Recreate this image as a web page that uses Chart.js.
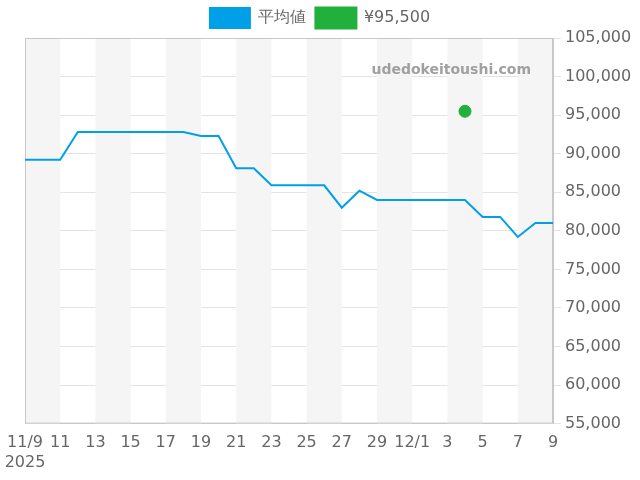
<!DOCTYPE html>
<html><head><meta charset="utf-8">
<script src="https://cdn.jsdelivr.net/npm/chart.js@4"></script>
<style>body{margin:0}#wrap{width:640px;height:480px}</style>
</head><body><div id="wrap"><canvas id="c"></canvas></div>
<script>
// day index 0 = 11/9/2025
const tickLabels = ['11/9','11','13','15','17','19','21','23','25','27','29','12/1','3','5','7','9'];
const avgValues = [89200,89200,89200,92800,92800,92800,92800,92800,92800,92800,92300,92300,88100,88100,85900,85900,85900,85900,83000,85200,84000,84000,84000,84000,84000,84000,81800,81800,79200,81000,81000];
const pointDay = 25;
const pointValue = 95500;

const bands = {
  id: 'bands',
  beforeDatasetsDraw(chart) {
    const {ctx, chartArea, scales: {x}} = chart;
    ctx.save();
    ctx.fillStyle = '#f5f5f5';
    for (let d = 0; d < 30; d += 4) {
      const x0 = x.getPixelForValue(d), x1 = x.getPixelForValue(d + 2);
      ctx.fillRect(x0, chartArea.top, x1 - x0, chartArea.bottom - chartArea.top);
    }
    ctx.strokeStyle = '#c8c8c8';
    ctx.lineWidth = 1;
    ctx.strokeRect(chartArea.left + 0.5, chartArea.top + 0.5, chartArea.right - chartArea.left - 1, chartArea.bottom - chartArea.top - 1);
    ctx.font = 'bold 14px "DejaVu Sans"';
    ctx.fillStyle = '#a0a0a0';
    ctx.textAlign = 'right';
    ctx.fillText('udedokeitoushi.com', chartArea.right - 22, chartArea.top + 32);
    ctx.restore();
  }
};

Chart.defaults.font.family = '"DejaVu Sans"';
Chart.defaults.font.size = 16;
Chart.defaults.color = '#666';

new Chart(document.getElementById('c'), {
  type: 'line',
  data: {
    datasets: [{
      label: '平均値',
      data: avgValues.map((v, i) => ({x: i, y: v})),
      borderColor: '#00a0e9', backgroundColor: '#00a0e9',
      borderWidth: 2, pointRadius: 0, tension: 0
    }, {
      label: '¥95,500',
      data: [{x: pointDay, y: pointValue}],
      borderColor: '#22b03c', backgroundColor: '#22b03c',
      showLine: false, pointRadius: 6
    }]
  },
  options: {
    responsive: true, maintainAspectRatio: false, animation: false,
    layout: {padding: {left: 0, right: 0, top: -2, bottom: 6}},
    plugins: {
      legend: {labels: {boxWidth: 40, boxHeight: 20, padding: 10, font: {size: 16}}},
      tooltip: {enabled: false}
    },
    scales: {
      x: {
        type: 'linear', min: 0, max: 30,
        grid: {display: false},
        border: {color: '#c8c8c8'},
        afterFit: s => { s.paddingLeft = 25; },
        ticks: {
          stepSize: 2, maxRotation: 0, autoSkip: false, padding: 2,
          callback: (v) => v === 0 ? ['11/9', '2025'] : tickLabels[v / 2]
        }
      },
      y: {
        position: 'right', min: 55000, max: 105000,
        grid: {color: '#e4e4e4'},
        border: {color: '#c8c8c8'},
        afterFit: s => { s.width = 87; },
        ticks: {stepSize: 5000, padding: 4, callback: v => v.toLocaleString('en-US')}
      }
    }
  },
  plugins: [bands]
});
</script></body></html>
